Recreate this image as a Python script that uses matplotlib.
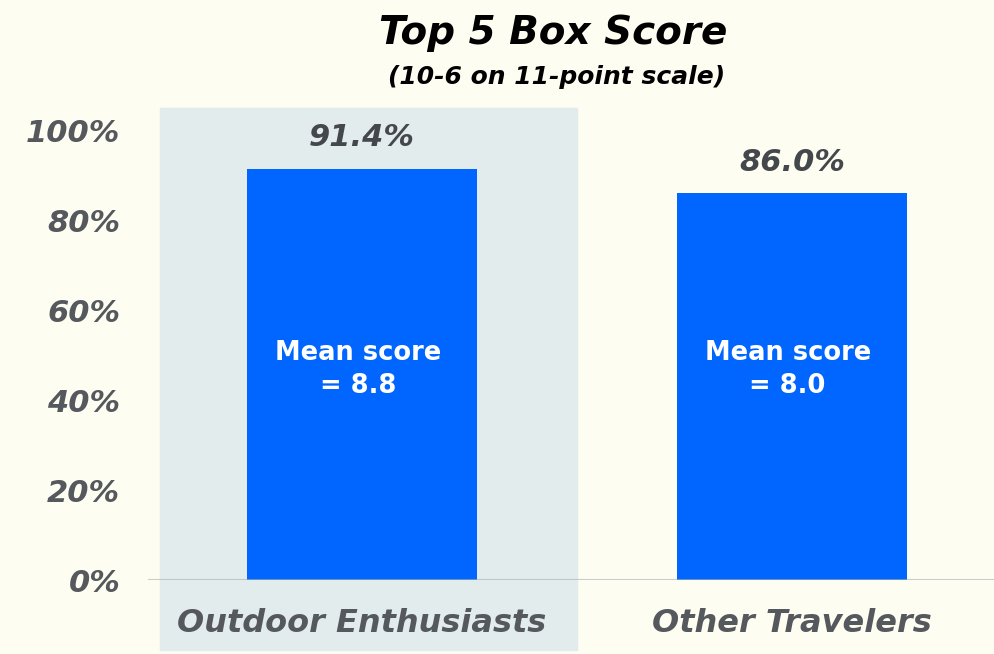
import matplotlib
matplotlib.use("Agg")
import matplotlib.pyplot as plt

# chart data
groups = ["Outdoor Enthusiasts", "Other Travelers"]
top5_pct = [91.4, 86.0]
mean_scores = [8.8, 8.0]
y_ticks = [0, 20, 40, 60, 80, 100]

BG = "#fdfdf1"
BAR = "#0066ff"
HILITE = "#e2ecec"
GREY = "#55595e"

plt.rcParams["font.family"] = ["DejaVu Sans"]

fig = plt.figure(figsize=(9.94, 6.54), dpi=100, facecolor=BG)
ax = fig.add_axes([148 / 994, 74 / 654, 846 / 994, 450 / 654])
ax.set_facecolor("none")

x = list(range(len(groups)))

# highlight panel behind the first group
ax.axvspan(-0.47, 0.5, ymin=-0.156, ymax=1.049, color=HILITE, zorder=0, clip_on=False)

bars = ax.bar(x, top5_pct, width=0.535, color=BAR, zorder=2)
ax.axhline(0, color="#a9aeb0", alpha=0.6, lw=1.5, zorder=3)

for xi, v, m in zip(x, top5_pct, mean_scores):
    ax.text(xi, v + 3.6, f"{v:.1f}%", ha="center", va="bottom", fontsize=22,
            fontweight="bold", style="italic", color="#44484c", zorder=3)
    ax.text(xi - 0.01, 46.7, f"Mean score\n= {m:.1f}", ha="center", va="center",
            fontsize=18.5, fontweight="bold", color="white", linespacing=1.35, zorder=3)

ax.set_xlim(-0.498, 1.47)
ax.set_ylim(0, 100)
ax.set_yticks(y_ticks)
ax.set_yticklabels([f"{t}%" for t in y_ticks], fontsize=22, fontweight="bold",
                   style="italic", color=GREY)
ax.set_xticks(x)
ax.set_xticklabels(groups, fontsize=23, fontweight="bold", style="italic", color=GREY)
ax.tick_params(axis="y", length=0, pad=20)
ax.tick_params(axis="x", length=0, pad=20)
for s in ax.spines.values():
    s.set_visible(False)

fig.text(0.5565, 0.950, "Top 5 Box Score", ha="center", va="center", fontsize=28,
         fontweight="bold", style="italic", color="black")
fig.text(0.5595, 0.882, "(10-6 on 11-point scale)", ha="center", va="center",
         fontsize=18, fontweight="bold", style="italic", color="black")

fig.savefig("out.png", dpi=100, facecolor=BG)
